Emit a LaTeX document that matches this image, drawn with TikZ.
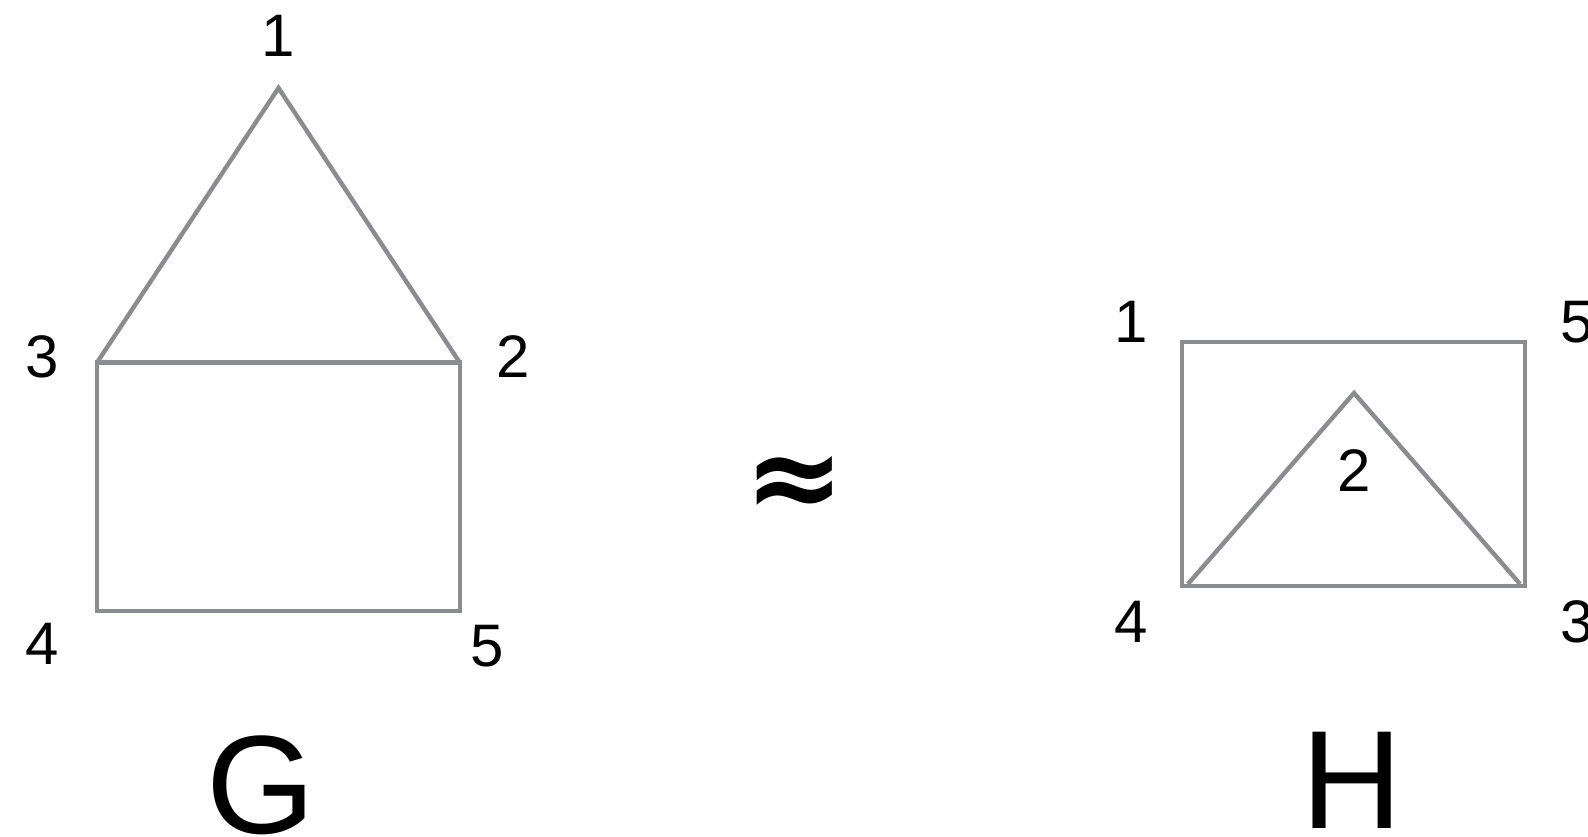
\documentclass[tikz,border=0pt]{standalone}
\usepackage{fontspec}
\setmainfont{Liberation Sans}
\newfontfamily\symfont{DejaVu Sans}
\begin{document}
\begin{tikzpicture}[x=0.5pt,y=-0.5pt,
  edge/.style={draw=gray!75!black!80, line width=2.2pt, line join=miter},
  lbl/.style={font=\fontsize{30}{30}\selectfont, inner sep=0pt},
  big/.style={font=\fontsize{70}{70}\selectfont, inner sep=0pt}]
\useasboundingbox (0,0) rectangle (1588,836);
\definecolor{eg}{RGB}{138,140,143}
% graph G
\coordinate (g1) at (278.5,88);
\coordinate (g3) at (97,362.6);
\coordinate (g2) at (459.8,362.6);
\coordinate (g4) at (97,610.7);
\coordinate (g5) at (459.8,610.7);
\draw[edge,draw=eg] (g3) -- (g1) -- (g2);
\draw[edge,draw=eg] (g3) -- (g2) -- (g5) -- (g4) -- cycle;
\node[lbl] (lg1) at (278.5,35.5) {1};
\node[lbl] (lg3) at (42.5,356.5) {3};
\node[lbl] (lg2) at (513.5,356.5) {2};
\node[lbl] (lg4) at (42.5,644) {4};
\node[lbl] (lg5) at (487,646) {5};
\node[big] (G) at (261,785) {G};
% approx
\node[inner sep=0pt, font=\fontsize{60}{60}\selectfont\symfont\bfseries] (ap) at (795,487) {≈};
% graph H
\coordinate (h1) at (1182,342);
\coordinate (h5) at (1525,342);
\coordinate (h4) at (1182,586);
\coordinate (h3) at (1525,586);
\coordinate (h2) at (1354,393);
\coordinate (h4i) at (1188,584);
\coordinate (h3i) at (1520,584);
\draw[edge,draw=eg] (h1) -- (h5) -- (h3) -- (h4) -- cycle;
\draw[edge,draw=eg] (h4i) -- (h2) -- (h3i);
\node[lbl] (lh1) at (1131,322) {1};
\node[lbl] (lh5) at (1577,322) {5};
\node[lbl] (lh4) at (1131,622) {4};
\node[lbl] (lh3) at (1577,622) {3};
\node[lbl] (lh2) at (1354,471) {2};
\node[big] (H) at (1352,780) {H};
\end{tikzpicture}
\end{document}
